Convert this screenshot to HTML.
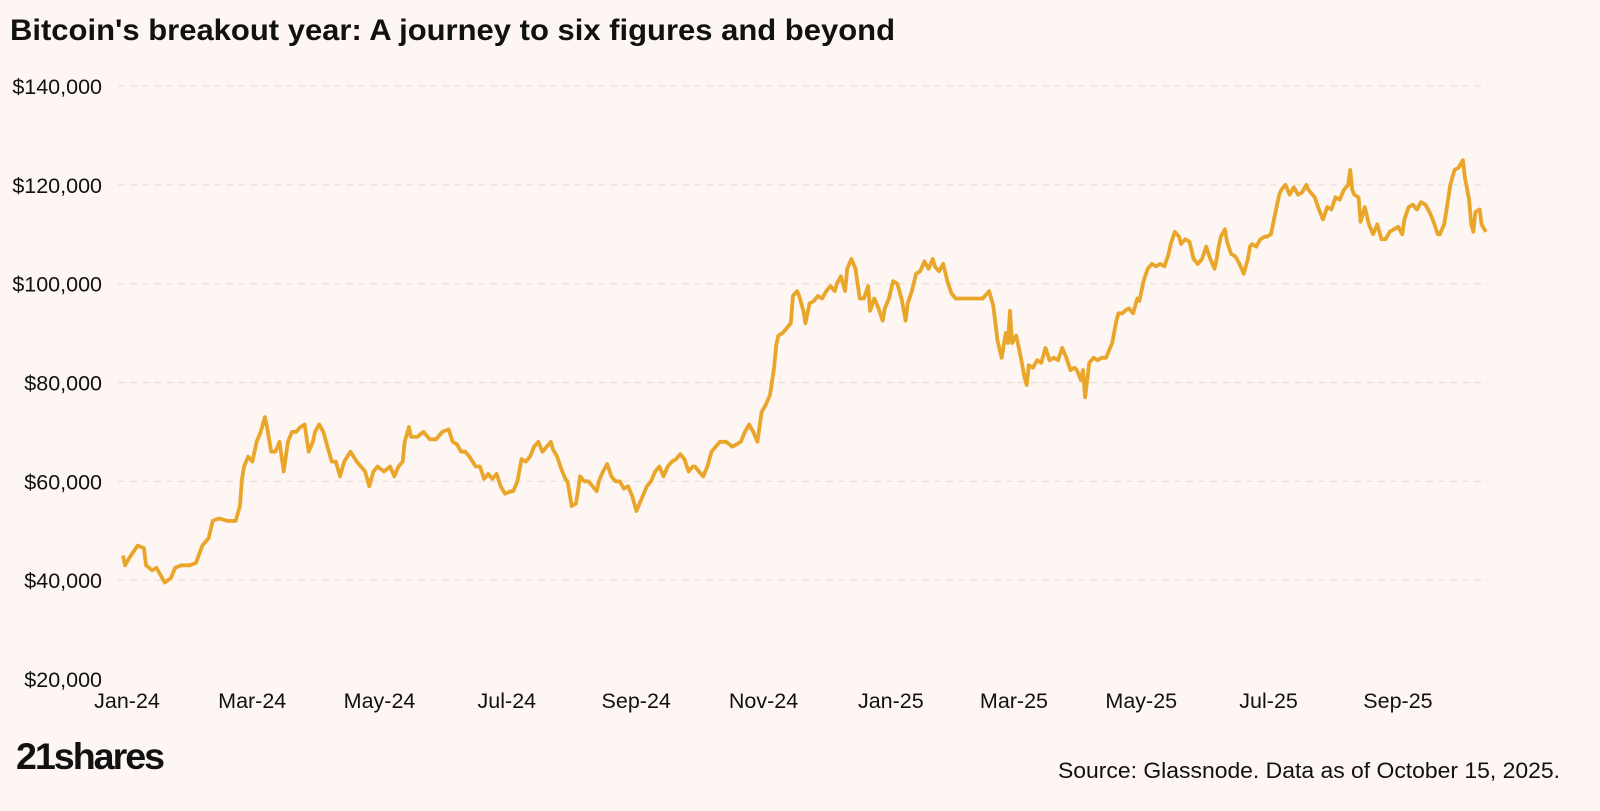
<!DOCTYPE html>
<html><head><meta charset="utf-8"><style>
body{margin:0;background:#fdf6f2;width:1600px;height:806px;overflow:hidden;font-family:"Liberation Sans",sans-serif}
</style></head><body>
<svg width="1600" height="806" xmlns="http://www.w3.org/2000/svg">
<rect width="1600" height="806" fill="#fdf6f2"/>
<text x="10" y="40" font-size="30" font-weight="bold" fill="#111" textLength="885" lengthAdjust="spacingAndGlyphs">Bitcoin's breakout year: A journey to six figures and beyond</text>
<g id="grid"></g><g id="yt"></g><g id="xt"></g><g id="plot"></g>
<text x="16" y="769" font-size="37" font-weight="bold" fill="#111" letter-spacing="-2" textLength="147" lengthAdjust="spacingAndGlyphs">21shares</text>
<text x="1560" y="778" font-size="22" text-anchor="end" fill="#111" textLength="502" lengthAdjust="spacingAndGlyphs">Source: Glassnode. Data as of October 15, 2025.</text>
</svg>
<script>
const yTicks=[20000,40000,60000,80000,100000,120000,140000];
const xLabels=["Jan-24","Mar-24","May-24","Jul-24","Sep-24","Nov-24","Jan-25","Mar-25","May-25","Jul-25","Sep-25"];
const xLabelDays=[0,60,121,182,244,305,366,425,486,547,609];
const days=[0,1,3,7,10,11,14,16,18,20,23,25,28,32,35,38,41,43,46,50,54,56,57,58,60,62,64,66,68,69,71,73,75,77,79,81,83,85,87,89,91,92,94,96,98,100,102,104,106,109,112,114,116,118,120,122,125,128,130,132,134,135,137,138,141,144,147,150,153,156,158,160,162,164,166,169,171,173,175,177,179,181,183,186,187,189,191,193,195,197,199,201,203,205,206,208,210,212,213,215,217,218,219,221,223,225,227,228,230,232,234,236,238,240,242,244,246,248,250,251,253,255,257,259,261,263,265,267,269,271,273,274,276,278,280,282,284,286,289,292,294,296,298,300,302,304,306,308,310,312,313,314,316,318,320,321,323,324,326,327,329,331,333,335,337,339,341,342,344,346,347,349,351,353,355,357,358,360,362,364,365,367,369,371,373,375,376,378,380,382,384,386,388,389,391,393,395,397,399,401,404,407,410,412,415,417,419,421,423,424,425,426,428,430,432,433,434,436,438,440,442,444,446,448,450,452,454,456,457,459,460,461,462,463,465,467,469,471,474,476,477,479,480,482,484,486,487,489,491,493,495,497,499,501,502,504,506,507,509,511,513,515,517,519,521,523,524,525,526,528,529,531,533,535,537,539,540,541,543,545,547,548,550,552,554,555,557,559,561,563,565,567,568,570,571,573,575,577,579,581,583,585,587,588,589,590,592,593,595,597,599,601,603,605,607,609,611,613,614,616,618,620,622,624,626,628,630,631,633,634,636,638,640,642,643,645,646,647,648,650,651,653];
const prices=[45,43,44.5,47,46.5,43,42,42.5,41,39.5,40.5,42.5,43,43,43.5,47,48.5,52,52.5,52,52,55,60.5,63,65,64,68,70,73,71,66,66,68,62,68,70,70,71,71.5,66,68,70,71.5,70,67,64,64,61,64,66,64,63,62,59,62,63,62,63,61,63,64,68,71,69,69,70,68.5,68.5,70,70.5,68,67.5,66,66,65,63,63,60.5,61.5,60.5,61.5,59,57.5,58,58,60,64.5,64,65,67,68,66,67,68,66.5,65,62.5,60.5,60,55,55.5,58,61,60,60,59,58,60,62,63.5,61,60,60,58.5,59,57,54,56,58,59,60,62,63,61,63,64,64.5,65.5,64.5,62,63,63,62,61,63,66,67,68,68,67,67.5,68,70,71.5,70,68,74,75.5,77.5,83,87.5,89.5,90,91,92,97.5,98.5,97.5,94.5,92,96,96.5,97.5,97,98.5,99.5,98.5,100,101.5,98.5,103,105,103,97,97,99.5,94.5,97,95,92.5,95,97,100.5,100,97,92.5,96,98.5,102,102.5,104.5,103,105,103.5,102.5,104,100.5,98,97,97,97,97,97,97,98.5,95.5,88.5,85,90,88,94.5,88,89.5,85.5,81,79.5,83.5,83,84.5,84,87,84.5,85,84.5,87,85,82.5,83,82.5,80.5,82.5,77,80.5,84,85,84.5,85,85,88,92.5,94,94,94.5,95,94,97,96.5,100.5,103,104,103.5,104,103.5,106,108,110.5,109.5,108,109,108.5,105,104,105,107.5,105,103,105,107.5,109.5,111,108.5,106,105.5,104,102,105,107.5,108,107.5,109,109.5,109.5,110,114,118,119,120,118,119.5,118,118.5,120,119,118,117.5,115,113,115.5,115,117.5,117,119,120,123,119,118,117.5,112.5,115.5,112,110,112,109,109,110.5,111,111.5,110,113,115.5,116,115,116.5,116,114.5,112.5,110,110,112,114.5,120,123,123.5,125,121.5,117,112,110.5,114.5,115,112,110.5];
const NS="http://www.w3.org/2000/svg";
const X0=123,XPD=2.087,Y0=679,YMIN=20000,YPX=593/120000;
function xs(d){return X0+d*XPD;}
function ys(v){return Y0-(v-YMIN)*YPX;}
function mk(tag,parent){const e=document.createElementNS(NS,tag);document.getElementById(parent).appendChild(e);return e;}
yTicks.forEach(t=>{
  if(t>YMIN){const l=mk('line','grid');
  
  
  l.setAttribute('x1',118);l.setAttribute('x2',1487);l.setAttribute('y1',ys(t));l.setAttribute('y2',ys(t));
  l.setAttribute('stroke','#e8e1dc');l.setAttribute('stroke-width','1.2');l.setAttribute('stroke-dasharray','7 5');}
  const tx=mk('text','yt');
  
  
  tx.setAttribute('x',102);tx.setAttribute('y',ys(t)+8);tx.setAttribute('text-anchor','end');tx.setAttribute('font-size','21.5');tx.setAttribute('fill','#111');
  tx.textContent='$'+t.toLocaleString('en-US');
});
xLabels.forEach((s,i)=>{
  const tx=mk('text','xt');
  
  
  tx.setAttribute('x',xs(xLabelDays[i])+4);tx.setAttribute('y',708);tx.setAttribute('text-anchor','middle');tx.setAttribute('font-size','21.5');tx.setAttribute('fill','#111');
  tx.textContent=s;
});
const n=Math.min(days.length,prices.length);
let d='';
for(let i=0;i<n;i++){d+=(i?'L':'M')+xs(days[i]).toFixed(1)+','+ys(prices[i]*1000).toFixed(1);}
const p=mk('path','plot');


p.setAttribute('d',d);p.setAttribute('fill','none');p.setAttribute('stroke','#e9a62a');p.setAttribute('stroke-width','3.8');p.setAttribute('stroke-linejoin','round');
</script>
</body></html>
